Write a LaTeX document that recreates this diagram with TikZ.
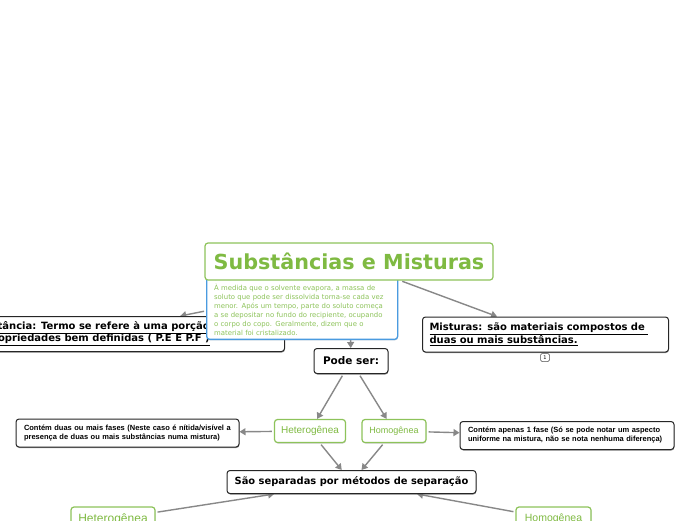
\documentclass[tikz,border=0pt]{standalone}
\usepackage{fontspec}
\newfontfamily\verdanafont{DejaVu Sans}
\newfontfamily\arialfont{Liberation Sans}
\usetikzlibrary{arrows.meta,backgrounds,shadows}
\definecolor{leafgreen}{HTML}{7FBA42}
\definecolor{softgreen}{HTML}{8DC35A}
\definecolor{skyblue}{HTML}{4A9BE0}
\definecolor{linkgray}{HTML}{888888}
\tikzset{
    darkbox/.style={draw=black!85,line width=1pt,rounded corners=3pt,fill=white,
        drop shadow={shadow xshift=0.4pt,shadow yshift=-1pt,fill=black!60,opacity=0.7}},
    boldbox/.style={darkbox,font=\verdanafont\bfseries\fontsize{10}{12}\selectfont,align=left},
    notebox/.style={darkbox,font=\arialfont\bfseries\fontsize{7.5}{9}\selectfont,align=left},
    kindbox/.style={draw=softgreen,line width=1.2pt,rounded corners=3pt,fill=white,text=leafgreen,
        font=\arialfont\fontsize{10}{12}\selectfont,
        drop shadow={shadow xshift=0.4pt,shadow yshift=-1pt,fill=black!35,opacity=0.6}},
    link/.style={draw=linkgray,line width=1.4pt,shorten <=2pt,-{Triangle[length=6pt,width=7pt]}}
}
\begin{document}
\begin{tikzpicture}[x=1pt,y=-1pt]
    \useasboundingbox (0,0) rectangle (696,520);
    % top row
    \node[boldbox,anchor=east,minimum height=35pt,minimum width=389pt,align=right] (substancia) at (285,334)
        {\underline{Substância: Termo se refere à uma porção}\hspace{18pt}\\\underline{propriedades bem definidas ( P.E E P.F )}};
    \node[draw=skyblue,line width=1.3pt,rounded corners=3pt,fill=white,text=softgreen,anchor=south west,
        text width=176pt,inner xsep=7.5pt,inner ysep=4pt,
        font=\verdanafont\fontsize{6.9}{9.05}\selectfont,align=left,
        drop shadow={shadow xshift=0.4pt,shadow yshift=-1pt,fill=black!30,opacity=0.5}] (solvente) at (206,340)
        {\rule{0pt}{33pt}solvente.\\À medida que o solvente evapora, a massa de\\soluto que pode ser dissolvida torna-se cada vez\\menor. Após um tempo, parte do soluto começa\\a se depositar no fundo do recipiente, ocupando\\o corpo do copo. Geralmente, dizem que o\\material foi cristalizado.};
    \node[draw=softgreen,line width=1.2pt,rounded corners=3pt,fill=white,text=leafgreen,minimum width=288pt,minimum height=37pt,
        font=\verdanafont\bfseries\fontsize{20.7}{26}\selectfont] (titulo) at (349,261.5) {Substâncias e Misturas};
    \node[boldbox,anchor=west,minimum height=35pt,text width=232pt,inner xsep=7pt] (misturas) at (422,334.5)
        {\underline{Misturas: são materiais compostos de }\\\underline{duas ou mais substâncias.}};
    \node[draw=black!70,line width=0.5pt,rounded corners=1.5pt,inner sep=0pt,minimum width=9pt,minimum height=8pt,
        font=\verdanafont\fontsize{5}{6}\selectfont] (contador) at (545,357.5) {1};
    % middle
    \node[boldbox,font=\verdanafont\bfseries\fontsize{10.5}{12}\selectfont,minimum width=74pt,minimum height=25pt] (podeser) at (351,361) {Pode ser:};
    \node[kindbox,minimum width=71pt,minimum height=23pt] (hetero) at (310,431) {Heterogênea};
    \node[kindbox,font=\arialfont\fontsize{9}{12}\selectfont,minimum width=64pt,minimum height=23pt] (homo) at (394,431) {Homogênea};
    \node[notebox,text width=207pt,minimum height=28pt,inner xsep=8pt] (notahetero) at (127.5,433)
        {Contém duas ou mais fases (Neste caso é nítida/visível a\\presença de duas ou mais substâncias numa mistura)};
    \node[notebox,text width=198pt,minimum height=28pt,inner xsep=8pt] (notahomo) at (567,435.5)
        {Contém apenas 1 fase (Só se pode notar um aspecto\\uniforme na mistura, não se nota nenhuma diferença)};
    % bottom
    \node[boldbox,font=\verdanafont\bfseries\fontsize{9.9}{12}\selectfont,minimum width=249pt,minimum height=23pt] (metodos) at (351.5,482) {São separadas por métodos de separação};
    \node[kindbox,font=\arialfont\fontsize{12}{14}\selectfont,minimum width=84pt,minimum height=24pt] (heterob) at (113,519) {Heterogênea};
    \node[kindbox,font=\arialfont\fontsize{10.5}{14}\selectfont,minimum width=75pt,minimum height=24pt] (homob) at (553.5,519) {Homogênea};
    % connectors
    \begin{pgfonlayer}{background}
        \draw[link] (solvente) -- (substancia);
        \draw[link] (titulo) -- (misturas);
        \draw[link] (titulo) -- (podeser);
        \draw[link] (podeser) -- (hetero);
        \draw[link] (podeser) -- (homo);
        \draw[link] (hetero) -- (notahetero);
        \draw[link] (homo) -- (notahomo);
        \draw[link] (hetero) -- (metodos);
        \draw[link] (homo) -- (metodos);
        \draw[link] (heterob) -- (metodos);
        \draw[link] (homob) -- (metodos);
    \end{pgfonlayer}
\end{tikzpicture}
\end{document}
